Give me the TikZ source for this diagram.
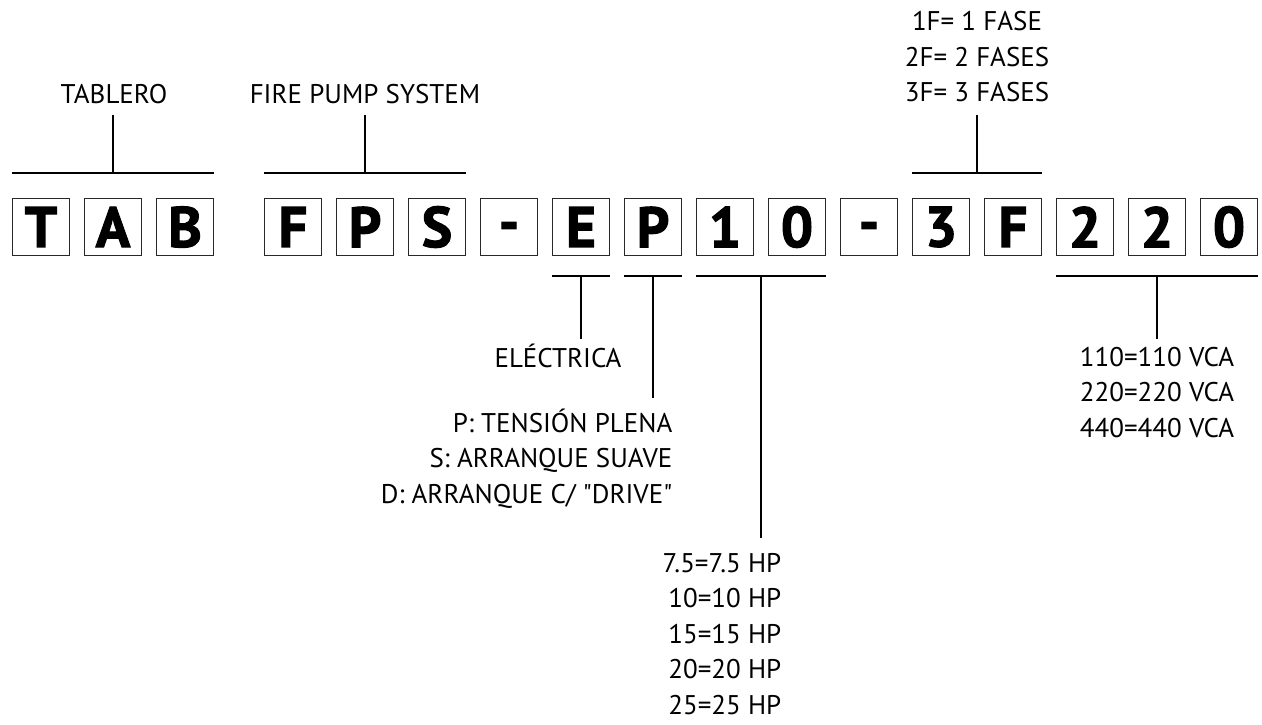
\documentclass[tikz,border=0pt]{standalone}
\usepackage{fontspec}
\setmainfont{PT Sans}
\newfontfamily\codefont{PT Sans Bold}[FakeBold=2]
\usepackage{tikz}
\usetikzlibrary{calc,positioning}
\tikzstyle{letterbox}=[draw=boxgray,line width=1.3pt,minimum size=57pt,inner sep=0pt,font=\fontsize{57}{57}\codefont\bfseries]
\tikzstyle{caption}=[inner sep=0pt,font=\fontsize{27}{35.5}\selectfont]
\definecolor{boxgray}{RGB}{40,40,40}
\newcommand{\codedash}{\vphantom{E}\raisebox{5pt}{-}}

\begin{document}
\begin{tikzpicture}[x=1pt,y=-1pt,line width=1.4pt]
\useasboundingbox (0,0) rectangle (1262,724);
% code boxes
\draw (41,227) node [letterbox] (boxT) {T};
\draw (113,227) node [letterbox] (boxA) {A};
\draw (185,227) node [letterbox] (boxB) {B};
\draw (293,227) node [letterbox] (boxF) {F};
\draw (365,227) node [letterbox] (boxP) {P};
\draw (437,227) node [letterbox] (boxS) {S};
\draw (509,227) node [letterbox] (dashA) {\codedash};
\draw (581,227) node [letterbox] (boxE) {E};
\draw (653,227) node [letterbox] (boxMode) {P};
\draw (725,227) node [letterbox] (boxOne) {1};
\draw (797,227) node [letterbox] (boxZero) {0};
\draw (869,227) node [letterbox] (dashB) {\codedash};
\draw (941,227) node [letterbox] (boxThree) {3};
\draw (1013,227) node [letterbox] (boxPh) {F};
\draw (1085,227) node [letterbox] (boxTwoA) {2};
\draw (1157,227) node [letterbox] (boxTwoB) {2};
\draw (1229,227) node [letterbox] (boxZeroB) {0};
% brackets above
\draw ([yshift=25pt]boxT.north west) -- ([yshift=25pt]boxB.north east) coordinate[midway] (tabM);
\draw ([yshift=25pt]boxF.north west) -- ([yshift=25pt]boxS.north east) coordinate[midway] (fpsM);
\draw ([yshift=25pt]boxThree.north west) -- ([yshift=25pt]boxPh.north east) coordinate[midway] (fasM);
% brackets below
\draw ([yshift=-20pt]boxE.south west) -- ([yshift=-20pt]boxE.south east) coordinate[midway] (eM);
\draw ([yshift=-20pt]boxMode.south west) -- ([yshift=-20pt]boxMode.south east) coordinate[midway] (modeM);
\draw ([yshift=-20pt]boxOne.south west) -- ([yshift=-20pt]boxZero.south east) coordinate[midway] (hpM);
\draw ([yshift=-20pt]boxTwoA.south west) -- ([yshift=-20pt]boxZeroB.south east) coordinate[midway] (vcaM);
% captions (base = last line)
\draw (114,103) node [caption,anchor=base] (tablero) {TABLERO};
\draw (365,103) node [caption,anchor=base] (fps) {FIRE PUMP SYSTEM};
\draw (977,103) node [caption,anchor=south,align=center] (fases) {1F= 1 FASE\\2F= 2 FASES\\3F= 3 FASES};
\draw (558,367) node [caption,anchor=base] (electrica) {ELÉCTRICA};
\draw (673,503) node [caption,anchor=base east,align=right] (modes) {P: TENSIÓN PLENA\\S: ARRANQUE SUAVE\\D: ARRANQUE C/ \textquotedbl DRIVE\textquotedbl};
\draw (782,714) node [caption,anchor=base east,align=right] (power) {7.5=7.5 HP\\10=10 HP\\15=15 HP\\20=20 HP\\25=25 HP};
\draw (1157,437) node [caption,anchor=base,align=center] (volts) {110=110 VCA\\220=220 VCA\\440=440 VCA};
% ticks
\draw[shorten >=12pt] (tabM) -- (tabM |- tablero.base);
\draw[shorten >=12pt] (fpsM) -- (fpsM |- fps.base);
\draw[shorten >=12pt] (fasM) -- (fasM |- fases.south);
\draw[shorten >=28pt] (eM) -- (eM |- electrica.base);
\draw[shorten >=105pt] (modeM) -- (modeM |- modes.base);
\draw[shorten >=176pt] (hpM) -- (hpM |- power.base);
\draw[shorten >=98pt] (vcaM) -- (vcaM |- volts.base);
\end{tikzpicture}
\end{document}
